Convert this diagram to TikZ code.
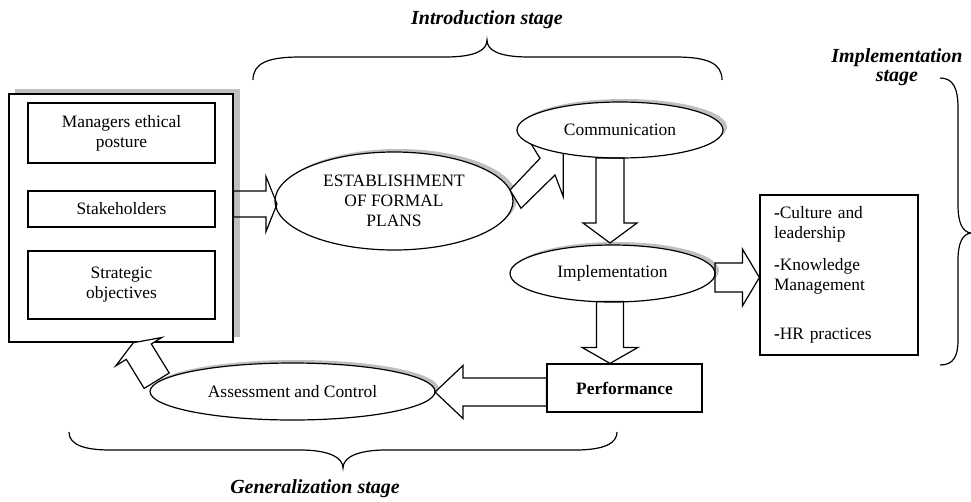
\documentclass[tikz,border=0pt]{standalone}
\usepackage{fontspec}
\setmainfont{Liberation Serif}
\usetikzlibrary{shapes.geometric,calc}
\newcommand\blockarr[6][]{%
  \draw[barrow,#1] let \p1=($(#3)-(#2)$), \n1={atan2(\y1,\x1)}, \n2={veclen(\x1,\y1)} in
    [shift={(#2)}, rotate=\n1]
    (0,#4) -- ({\n2-#6},#4) -- ({\n2-#6},#5) -- (\n2,0) -- ({\n2-#6},-#5) -- ({\n2-#6},-#4) -- (0,-#4) -- cycle;}
\begin{document}
\begin{tikzpicture}[x=1pt,y=-1pt,
  every node/.style={font=\fontsize{17.4}{20}\selectfont},
  bx/.style={draw, line width=1.2pt, fill=white, inner sep=0pt},
  ell/.style={draw, ellipse, line width=1.2pt, fill=white, inner sep=0pt, align=center},
  shadowc/.style={fill=black!25},
  barrow/.style={draw, line width=1.2pt, line join=miter},
  brace/.style={draw, line width=1.2pt},
  stagetitle/.style={font=\fontsize{20}{19}\selectfont\bfseries\itshape, align=center}]
\useasboundingbox (0,0) rectangle (971,501);

% shadows
\fill[shadowc] (15,89) rectangle (240,337);
\fill[shadowc] (398,198) ellipse [x radius=119pt, y radius=49pt];
\fill[shadowc] (624,127) ellipse [x radius=103pt, y radius=28pt];
\fill[shadowc] (616.5,270.5) ellipse [x radius=102.5pt, y radius=28.5pt];
\fill[shadowc] (296,388.5) ellipse [x radius=142.5pt, y radius=28.5pt];

% source box
\node[bx, minimum width=224pt, minimum height=248pt] (src) at (121,218) {};
\node[bx, minimum width=187pt, minimum height=60pt, align=center] (mgr) at (121.5,133) {Managers ethical\\posture};
\node[bx, minimum width=187pt, minimum height=36pt] (stk) at (121.5,209) {Stakeholders};
\node[bx, minimum width=187pt, minimum height=68pt, align=center] (obj) at (121.5,285) {Strategic\\objectives};

% ellipses
\node[ell, minimum width=238pt, minimum height=98pt] (est) at (394,201) {ESTABLISHMENT\\OF FORMAL\\PLANS};

% diagonal arrow establishment -> communication (tip hidden under ellipse)
\draw[barrow, fill=white] (510,190) -- (540,158.3) -- (527.8,138.6) -- (563.3,135) -- (563.3,196.7) -- (555,175) -- (521,208.3) -- cycle;

\node[ell, minimum width=206pt, minimum height=56pt] (com) at (620,130) {Communication};
\node[ell, minimum width=205pt, minimum height=57pt] (imp) at (612.5,273.5) {Implementation};

% arrow assessment -> source box
\coordinate (a7s) at (156.7,380.7);
\coordinate (a7e) at (133.3,342.7);
\blockarr[fill=white]{a7s}{a7e}{14.7}{27}{10.5}

\node[ell, minimum width=285pt, minimum height=57pt] (ass) at (292.5,391.5) {Assessment and Control};
\node[bx, minimum width=155pt, minimum height=48pt, font=\fontsize{17.4}{20}\selectfont\bfseries] (perf) at (624.5,388) {Performance};
\node[bx, minimum width=158pt, minimum height=160pt, text width=130pt, inner xsep=14pt, align=left] (hr) at (839,275)
  {{\bfseries-}Culture and\\leadership\\[12pt]{\bfseries-}Knowledge\\Management\\[29pt]{\bfseries-}HR practices};

% straight block arrows
\coordinate (a1s) at (src.east |- 0,204);
\coordinate (a1e) at (277,204);
\blockarr{a1s}{a1e}{13}{27.5}{11}
\coordinate (a3s) at (610,158);
\coordinate (a3e) at (610,243);
\blockarr{a3s}{a3e}{14}{27}{20}
\coordinate (a4s) at (715,277.5);
\coordinate (a4e) at (hr.west |- 0,277.5);
\blockarr{a4s}{a4e}{14.5}{28.5}{17}
\coordinate (a5s) at (610,301.5);
\coordinate (a5e) at (perf.north -| 610,0);
\blockarr{a5s}{a5e}{13.5}{28}{16}
\coordinate (a6s) at (perf.west |- 0,392);
\coordinate (a6e) at (435,392);
\blockarr{a6s}{a6e}{14}{26.5}{28}

% braces
\draw[brace] (253,80) .. controls (253,63) and (268,57) .. (300,57) -- (445,57) .. controls (476,57) and (487,50) .. (487,40) .. controls (487,50) and (498,57) .. (529,57) -- (675,57) .. controls (707,57) and (722,63) .. (722,80);
\draw[brace] (69,432) .. controls (69,445) and (85,450) .. (110,450) -- (300,450) .. controls (330,450) and (343,458) .. (343,468) .. controls (343,458) and (356,450) .. (386,450) -- (575,450) .. controls (605,450) and (617,443) .. (617,432);
\draw[brace] (940,78) .. controls (953,78) and (958,88) .. (958,108) -- (958,205) .. controls (958,222) and (962,232) .. (971,233) .. controls (962,234) and (958,244) .. (958,260) -- (958,340) .. controls (958,357) and (953,365) .. (940,365);

% stage titles
\node[stagetitle] (tintro) at (487,20) {Introduction stage};
\node[stagetitle] (timpl) at (897,67.5) {Implementation\\stage};
\node[stagetitle] (tgen) at (315,489) {Generalization stage};
\end{tikzpicture}
\end{document}
